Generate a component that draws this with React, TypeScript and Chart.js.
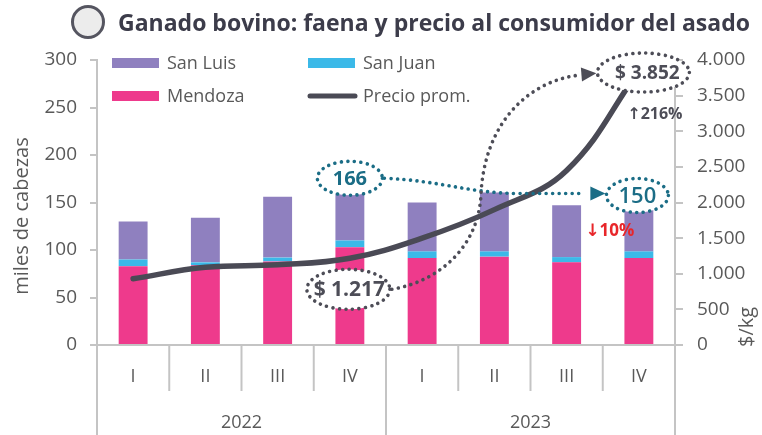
import React, { useEffect, useRef } from "react";
import { Chart, registerables } from "chart.js";

Chart.register(...registerables);

const quarters = ["I", "II", "III", "IV", "I", "II", "III", "IV"];
const years = ["2022", "2023"];
const mendoza = [83, 84, 88, 103, 91.5, 93, 87, 91.5];
const sanJuan = [7, 3, 4, 7, 7, 5.5, 5.5, 7];
const sanLuis = [40, 47, 64, 56, 51.5, 62, 54.5, 51.5];
const precio = [930, 1090, 1125, 1217, 1500, 1900, 2450, 3852];
const leftTicks = [0, 50, 100, 150, 200, 250, 300];
const rightTicks = [0, 500, 1000, 1500, 2000, 2500, 3000, 3500, 4000];

const C_LUIS = "#8f80bf";
const C_JUAN = "#3bb9e8";
const C_MEND = "#ee3a8c";
const C_LINE = "#4a4a55";
const C_TEAL = "#1b6d86";
const C_GRAY = "#4d4d57";
const C_TXT = "#595959";
const C_AX = "#c4c4c4";
const FONT = "'Open Sans', 'DejaVu Sans', sans-serif";

const fmt = (v: number) => String(v).replace(/\B(?=(\d{3})+(?!\d))/g, ".");

function dottedEllipse(ctx: CanvasRenderingContext2D, cx: number, cy: number, rx: number, ry: number, color: string) {
  ctx.save();
  ctx.beginPath();
  ctx.ellipse(cx, cy, rx, ry, 0, 0, Math.PI * 2);
  ctx.fillStyle = "#ffffff";
  ctx.fill();
  ctx.setLineDash([0.01, 6.5]);
  ctx.lineCap = "round";
  ctx.lineWidth = 3.6;
  ctx.strokeStyle = color;
  ctx.stroke();
  ctx.restore();
}

function arrowHead(ctx: CanvasRenderingContext2D, tipX: number, tipY: number, angle: number, color: string) {
  ctx.save();
  ctx.translate(tipX, tipY);
  ctx.rotate(angle);
  ctx.beginPath();
  ctx.moveTo(0, 0);
  ctx.lineTo(-15, -7);
  ctx.lineTo(-15, 7);
  ctx.closePath();
  ctx.fillStyle = color;
  ctx.fill();
  ctx.restore();
}

const decorPlugin = {
  id: "decor",
  afterDraw(chart: any) {
    const ctx: CanvasRenderingContext2D = chart.ctx;
    const xs = chart.scales.x;
    const ys = chart.scales.y;
    const y1 = chart.scales.y1;
    const area = chart.chartArea;
    const X = (i: number) => xs.getPixelForValue(i);
    const step = X(1) - X(0);
    const H = chart.height;

    // Title
    ctx.save();
    ctx.beginPath();
    ctx.arc(88, 22, 15.5, 0, Math.PI * 2);
    ctx.fillStyle = "#ececec";
    ctx.fill();
    ctx.lineWidth = 3;
    ctx.strokeStyle = "#555560";
    ctx.stroke();
    ctx.fillStyle = "#3c3c4a";
    ctx.font = `bold 24px ${FONT}`;
    ctx.textBaseline = "alphabetic";
    ctx.textAlign = "left";
    ctx.fillText("Ganado bovino: faena y precio al consumidor del asado", 118, 31, 632);
    ctx.restore();

    // x-axis categories
    ctx.save();
    ctx.strokeStyle = C_AX;
    ctx.lineWidth = 2;
    for (let i = 0; i <= quarters.length; i++) {
      const x = i === 0 ? area.left : i === quarters.length ? area.right : X(i) - step / 2;
      const long = i % 4 === 0;
      ctx.beginPath();
      ctx.moveTo(x, area.bottom);
      ctx.lineTo(x, long ? H : area.bottom + 46);
      ctx.stroke();
    }
    ctx.fillStyle = C_TXT;
    ctx.font = `18px ${FONT}`;
    ctx.textAlign = "center";
    ctx.textBaseline = "middle";
    quarters.forEach((q, i) => ctx.fillText(q, X(i), area.bottom + 32));
    years.forEach((yr, k) => {
      const cx = (X(k * 4) + X(k * 4 + 3)) / 2;
      ctx.fillText(yr, cx, area.bottom + 78);
    });
    ctx.restore();

    // axis titles
    ctx.save();
    ctx.fillStyle = C_TXT;
    ctx.font = `20px ${FONT}`;
    ctx.textAlign = "center";
    ctx.textBaseline = "middle";
    ctx.translate(22, 216);
    ctx.rotate(-Math.PI / 2);
    ctx.fillText("miles de cabezas", 0, 0);
    ctx.restore();
    ctx.save();
    ctx.fillStyle = C_TXT;
    ctx.font = `20px ${FONT}`;
    ctx.textAlign = "left";
    ctx.textBaseline = "middle";
    ctx.translate(747, area.bottom + 2);
    ctx.rotate(-Math.PI / 2);
    ctx.fillText("$/kg", 0, 0);
    ctx.restore();

    // legend
    ctx.save();
    ctx.font = `18px ${FONT}`;
    ctx.textBaseline = "middle";
    ctx.textAlign = "left";
    const items = [
      { t: "San Luis", c: C_LUIS, x: 112, y: 63, line: false },
      { t: "San Juan", c: C_JUAN, x: 308, y: 63, line: false },
      { t: "Mendoza", c: C_MEND, x: 112, y: 96, line: false },
      { t: "Precio prom.", c: C_LINE, x: 308, y: 96, line: true },
    ];
    items.forEach((it) => {
      if (it.line) {
        ctx.strokeStyle = it.c;
        ctx.lineWidth = 5;
        ctx.lineCap = "round";
        ctx.beginPath();
        ctx.moveTo(it.x + 2, it.y);
        ctx.lineTo(it.x + 47, it.y);
        ctx.stroke();
      } else {
        ctx.fillStyle = it.c;
        ctx.fillRect(it.x, it.y - 5, 47, 10);
      }
      ctx.fillStyle = C_TXT;
      ctx.fillText(it.t, it.x + 55, it.y + 1);
    });
    ctx.restore();

    // annotations
    const x3 = X(3);
    const x7 = X(7);
    const e166 = { x: x3, y: ys.getPixelForValue(166) - 9, rx: 32.5, ry: 17 };
    const e150 = { x: x7 - 1.5, y: ys.getPixelForValue(150) - 7, rx: 31, ry: 17 };
    const e1217 = { x: x3 - 1.5, y: y1.getPixelForValue(1217) + 31, rx: 41.5, ry: 20 };
    const e3852 = { x: x7 + 4.5, y: y1.getPixelForValue(3852) + 2, rx: 46, ry: 19.5 };

    ctx.save();
    ctx.setLineDash([0.01, 6.5]);
    ctx.lineCap = "round";
    ctx.lineWidth = 3.6;
    // teal arrow
    ctx.strokeStyle = C_TEAL;
    ctx.beginPath();
    ctx.moveTo(e166.x + e166.rx + 2, e166.y);
    ctx.bezierCurveTo(e166.x + 90, e166.y + 2, e166.x + 120, e150.y - 2, e166.x + 170, e150.y - 2);
    ctx.lineTo(e150.x - e150.rx - 22, e150.y - 2);
    ctx.stroke();
    // gray curve
    ctx.strokeStyle = C_GRAY;
    const sx = e1217.x + e1217.rx + 2;
    const sy = e1217.y;
    ctx.beginPath();
    ctx.moveTo(sx, sy);
    ctx.bezierCurveTo(sx + 48, sy - 8, sx + 86, sy - 43, sx + 89, sy - 93);
    ctx.bezierCurveTo(sx + 92, sy - 168, sx + 138, sy - 208, sx + 186, sy - 214);
    ctx.stroke();
    ctx.restore();
    arrowHead(ctx, e150.x - e150.rx - 1, e150.y - 2, 0, C_TEAL);
    arrowHead(ctx, e3852.x - e3852.rx - 1, sy - 216, -0.08, C_GRAY);

    dottedEllipse(ctx, e166.x, e166.y, e166.rx, e166.ry, C_TEAL);
    dottedEllipse(ctx, e150.x, e150.y, e150.rx, e150.ry, C_TEAL);
    dottedEllipse(ctx, e1217.x, e1217.y, e1217.rx, e1217.ry, C_GRAY);
    dottedEllipse(ctx, e3852.x, e3852.y, e3852.rx, e3852.ry, C_GRAY);

    ctx.save();
    ctx.textAlign = "center";
    ctx.textBaseline = "middle";
    ctx.fillStyle = C_TEAL;
    ctx.font = `bold 20px ${FONT}`;
    ctx.fillText("166", e166.x, e166.y + 1);
    ctx.font = `600 22px ${FONT}`;
    ctx.fillText("150", e150.x, e150.y + 1);
    ctx.fillStyle = C_GRAY;
    ctx.font = `bold 21px ${FONT}`;
    ctx.fillText("$ 1.217", e1217.x + 1, e1217.y + 1);
    ctx.font = `bold 19px ${FONT}`;
    ctx.fillText("$ 3.852", e3852.x + 4, e3852.y + 1);
    ctx.font = `bold 16px ${FONT}`;
    ctx.fillStyle = C_GRAY;
    ctx.fillText("↑216%", x7 + 16, y1.getPixelForValue(3852) + 44);
    ctx.fillStyle = "#e8262a";
    ctx.font = `bold 17px ${FONT}`;
    ctx.fillText("↓10%", x7 - 29, ys.getPixelForValue(150) + 29);
    ctx.restore();
  },
};

export default function App() {
  const ref = useRef<HTMLCanvasElement | null>(null);
  useEffect(() => {
    if (!ref.current) return;
    const chart = new Chart(ref.current, {
      type: "bar",
      data: {
        labels: quarters,
        datasets: [
          { type: "line", label: "Precio prom.", data: precio, yAxisID: "y1", borderColor: C_LINE, borderWidth: 5.5, pointRadius: 0, tension: 0.4, borderCapStyle: "round", order: 0 } as any,
          { label: "Mendoza", data: mendoza, backgroundColor: C_MEND, stack: "s", yAxisID: "y", order: 1, barPercentage: 0.4, categoryPercentage: 1 },
          { label: "San Juan", data: sanJuan, backgroundColor: C_JUAN, stack: "s", yAxisID: "y", order: 1, barPercentage: 0.4, categoryPercentage: 1 },
          { label: "San Luis", data: sanLuis, backgroundColor: C_LUIS, stack: "s", yAxisID: "y", order: 1, barPercentage: 0.4, categoryPercentage: 1 },
        ],
      },
      options: {
        animation: false,
        responsive: false,
        maintainAspectRatio: false,
        layout: { padding: { top: 60, left: 0, right: 0, bottom: 0 } },
        plugins: { legend: { display: false }, tooltip: { enabled: false }, title: { display: false } },
        scales: {
          x: {
            stacked: true,
            ticks: { display: false },
            grid: { display: false },
            border: { display: true, color: C_AX, width: 2 },
            afterFit: (s: any) => { s.height = 90; },
          },
          y: {
            stacked: true,
            position: "left",
            min: 0,
            max: 300,
            afterBuildTicks: (s: any) => { s.ticks = leftTicks.map((v) => ({ value: v })); },
            ticks: { color: C_TXT, font: { size: 19, family: FONT }, padding: 13 },
            grid: { drawOnChartArea: false, tickLength: 7, color: C_AX, lineWidth: 2 },
            border: { color: C_AX, width: 2 },
            afterFit: (s: any) => { s.width = 97; },
          },
          y1: {
            position: "right",
            min: 0,
            max: 4000,
            afterBuildTicks: (s: any) => { s.ticks = rightTicks.map((v) => ({ value: v })); },
            ticks: { color: C_TXT, font: { size: 19, family: FONT }, padding: 14, callback: (v: any) => fmt(Number(v)) },
            grid: { drawOnChartArea: false, tickLength: 8, color: C_AX, lineWidth: 2 },
            border: { color: C_AX, width: 2 },
            afterFit: (s: any) => { s.width = 87; },
          },
        },
      },
      plugins: [decorPlugin],
    } as any);
    return () => chart.destroy();
  }, []);
  return (
    <div style={{ position: "absolute", left: 0, top: 0, width: 762, height: 435, background: "#fff" }}>
      <canvas ref={ref} width={762} height={435} style={{ width: 762, height: 435, display: "block" }} />
    </div>
  );
}
